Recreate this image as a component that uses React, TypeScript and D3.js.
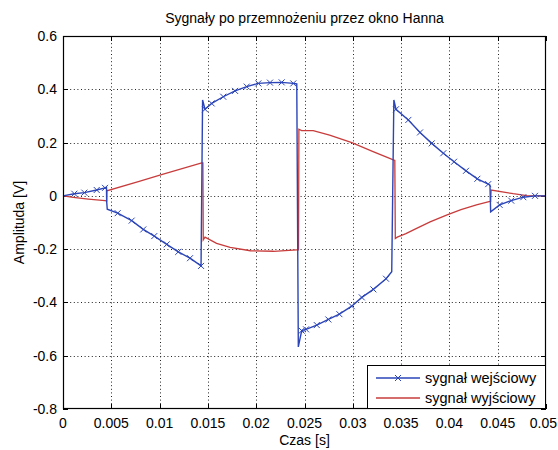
import React from "react";
import * as d3 from "d3";

// Axis ticks
const xTicks = [0, 0.005, 0.01, 0.015, 0.02, 0.025, 0.03, 0.035, 0.04, 0.045, 0.05];
const xTickLabels = ["0", "0.005", "0.01", "0.015", "0.02", "0.025", "0.03", "0.035", "0.04", "0.045", "0.05"];
const yTicks = [0.6, 0.4, 0.2, 0, -0.2, -0.4, -0.6, -0.8];
const yTickLabels = ["0.6", "0.4", "0.2", "0", "-0.2", "-0.4", "-0.6", "-0.8"];

// Input signal after the Hann window: time [s], amplitude [V]
const inputTime = [
  0, 0.00117, 0.00221, 0.00349, 0.00435, 0.0045, 0.00452, 0.00458,
  0.00566, 0.00711, 0.00831, 0.00945, 0.01074, 0.01194, 0.01315, 0.01429,
  0.01445, 0.0147, 0.01539, 0.01659, 0.01781, 0.01902, 0.02022, 0.02143,
  0.02264, 0.02384, 0.0242, 0.02436, 0.02471, 0.02516, 0.02627, 0.02747,
  0.02861, 0.02989, 0.03093, 0.03213, 0.03344, 0.03403, 0.03425, 0.03447,
  0.03575, 0.03696, 0.03817, 0.03937, 0.04048, 0.04172, 0.04289, 0.04402,
  0.0442, 0.04427, 0.0452, 0.0464, 0.04765, 0.04886, 0.05,
];
const inputValue = [
  0, 0.008, 0.012, 0.022, 0.03, 0.032, -0.02, -0.05,
  -0.065, -0.093, -0.126, -0.151, -0.182, -0.21, -0.234, -0.263,
  0.36, 0.325, 0.347, 0.372, 0.394, 0.41, 0.422, 0.425,
  0.426, 0.422, 0.42, -0.567, -0.506, -0.501, -0.485, -0.464,
  -0.444, -0.414, -0.381, -0.351, -0.311, -0.285, 0.36, 0.325,
  0.285, 0.238, 0.197, 0.16, 0.128, 0.094, 0.064, 0.044,
  0.04, -0.06, -0.034, -0.018, -0.005, 0.0, 0,
];
// 1 where the sample carries an "x" marker
const inputMarked = [
  0, 1, 1, 1, 1, 0, 0, 0,
  1, 1, 1, 1, 1, 1, 1, 1,
  0, 1, 1, 1, 1, 1, 1, 1,
  1, 1, 0, 0, 1, 1, 1, 1,
  1, 1, 1, 1, 1, 0, 0, 1,
  1, 1, 1, 1, 1, 1, 1, 1,
  0, 0, 1, 1, 1, 1, 0,
];

// Output signal after the Hann window
const outputTime = [
  0, 0.00107, 0.00262, 0.00435, 0.00452, 0.00455, 0.0078, 0.0102,
  0.01436, 0.01448, 0.01452, 0.0147, 0.0159, 0.0173, 0.0194, 0.0218,
  0.0242, 0.02438, 0.02442, 0.0247, 0.0259, 0.0276, 0.0299, 0.0321,
  0.0342, 0.03435, 0.0344, 0.0346, 0.0355, 0.0365, 0.038, 0.0397,
  0.0412, 0.0428, 0.0442, 0.04427, 0.04432, 0.0466, 0.048, 0.05,
];
const outputValue = [
  0, -0.006, -0.012, -0.018, -0.019, 0.019, 0.053, 0.08,
  0.124, 0.124, -0.165, -0.155, -0.178, -0.193, -0.206, -0.208,
  -0.203, -0.203, 0.25, 0.245, 0.245, 0.228, 0.2, 0.166,
  0.135, 0.133, -0.16, -0.155, -0.142, -0.124, -0.098, -0.072,
  -0.052, -0.034, -0.021, -0.021, 0.022, 0.008, 0.001, 0,
];

const legendLabels = ["sygnał wejściowy", "sygnał wyjściowy"];

const W = 558;
const H = 450;
const left = 63;
const top = 36;
const right = 546;
const bottom = 409;

const BLUE = "#2b45b8";
const RED = "#c83c3c";
const FONT = "'Liberation Sans', Arial, sans-serif";

export default function App() {
  const x = d3.scaleLinear().domain([0, 0.05]).range([left, right]);
  const y = d3.scaleLinear().domain([-0.8, 0.6]).range([bottom, top]);

  const inputPts = inputTime.map((t, i) => [t, inputValue[i]] as [number, number]);
  const outputPts = outputTime.map((t, i) => [t, outputValue[i]] as [number, number]);
  const line = d3
    .line<[number, number]>()
    .x((d) => x(d[0]))
    .y((d) => y(d[1]));

  const cross = (cx: number, cy: number, key: string | number) => (
    <path
      key={key}
      d={`M${cx - 3},${cy - 3}L${cx + 3},${cy + 3}M${cx - 3},${cy + 3}L${cx + 3},${cy - 3}`}
      stroke={BLUE}
      strokeWidth={1}
      fill="none"
    />
  );

  const tickLen = 5;
  const lgX = 367;
  const lgY = 365;
  const lgW = right - lgX;
  const lgH = bottom - lgY;
  const lastTick = xTicks.length - 1;

  return (
    <svg
      width={W}
      height={H}
      style={{ position: "absolute", left: 0, top: 0, background: "#fff" }}
      fontFamily={FONT}
    >
      <rect x={0} y={0} width={W} height={H} fill="#fff" />
      {/* grid */}
      <g stroke="#222" strokeWidth={1} strokeDasharray="1 2.6">
        {xTicks.slice(1, -1).map((t) => (
          <line key={"gx" + t} x1={Math.round(x(t)) + 0.5} x2={Math.round(x(t)) + 0.5} y1={top} y2={bottom} />
        ))}
        {yTicks.slice(1, -1).map((v) => (
          <line key={"gy" + v} x1={left} x2={right} y1={Math.round(y(v)) + 0.5} y2={Math.round(y(v)) + 0.5} />
        ))}
      </g>
      {/* ticks on all four sides */}
      <g stroke="#000" strokeWidth={1}>
        {xTicks.map((t) => {
          const px = Math.round(x(t)) + 0.5;
          return (
            <g key={"tx" + t}>
              <line x1={px} x2={px} y1={bottom} y2={bottom - tickLen} />
              <line x1={px} x2={px} y1={top} y2={top + tickLen} />
            </g>
          );
        })}
        {yTicks.map((v) => {
          const py = Math.round(y(v)) + 0.5;
          return (
            <g key={"ty" + v}>
              <line x1={left} x2={left + tickLen} y1={py} y2={py} />
              <line x1={right} x2={right - tickLen} y1={py} y2={py} />
            </g>
          );
        })}
      </g>
      {/* series */}
      <path d={line(outputPts) || ""} fill="none" stroke={RED} strokeWidth={1.3} />
      <path d={line(inputPts) || ""} fill="none" stroke={BLUE} strokeWidth={1.4} />
      {inputPts.map((p, i) => (inputMarked[i] ? cross(x(p[0]), y(p[1]), i) : null))}
      {/* frame */}
      <rect x={left + 0.5} y={top + 0.5} width={right - left - 1} height={bottom - top - 1} fill="none" stroke="#000" strokeWidth={1.2} />
      {/* tick labels */}
      <g fontSize={14} fill="#000">
        {xTicks.map((t, i) => (
          <text
            key={"lx" + t}
            x={i === lastTick ? W - 1 : x(t)}
            y={bottom + 19}
            textAnchor={i === lastTick ? "end" : "middle"}
          >
            {xTickLabels[i]}
          </text>
        ))}
        {yTicks.map((v, i) => (
          <text key={"ly" + v} x={left - 6} y={y(v) + 5} textAnchor="end">
            {yTickLabels[i]}
          </text>
        ))}
      </g>
      {/* titles */}
      <text x={(left + right) / 2} y={23} textAnchor="middle" fontSize={14}>
        Sygnały po przemnożeniu przez okno Hanna
      </text>
      <text x={(left + right) / 2} y={445} textAnchor="middle" fontSize={14}>
        Czas [s]
      </text>
      <text
        transform={`translate(24,${(top + bottom) / 2}) rotate(-90)`}
        textAnchor="middle"
        fontSize={14}
      >
        Amplituda [V]
      </text>
      {/* legend */}
      <g>
        <rect x={lgX + 0.5} y={lgY + 0.5} width={lgW - 1} height={lgH - 1} fill="#fff" stroke="#000" strokeWidth={1} />
        <line x1={lgX + 9} x2={lgX + 53} y1={lgY + 13} y2={lgY + 13} stroke={BLUE} strokeWidth={1.4} />
        {cross(lgX + 31, lgY + 13, "lgm")}
        <text x={lgX + 58} y={lgY + 18} fontSize={14.5}>
          {legendLabels[0]}
        </text>
        <line x1={lgX + 9} x2={lgX + 53} y1={lgY + 33} y2={lgY + 33} stroke={RED} strokeWidth={1.3} />
        <text x={lgX + 58} y={lgY + 38} fontSize={14.5}>
          {legendLabels[1]}
        </text>
      </g>
    </svg>
  );
}
